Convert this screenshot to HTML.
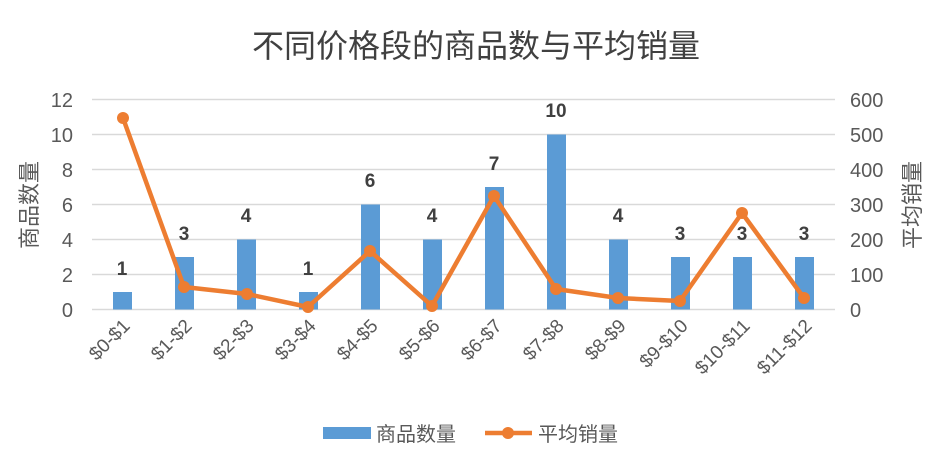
<!DOCTYPE html>
<html><head><meta charset="utf-8"><style>
body{margin:0;background:#fff;}
svg text{font-family:"Liberation Sans","Noto Sans CJK SC",sans-serif;}
</style></head><body>
<svg width="952" height="466" viewBox="0 0 952 466" xmlns="http://www.w3.org/2000/svg">
<rect width="952" height="466" fill="#fff"/>
<text x="476" y="57" font-size="32" fill="#404040" text-anchor="middle">不同价格段的商品数与平均销量</text>
<g stroke="#d9d9d9" stroke-width="1.5">
<line x1="92" y1="99.5" x2="835" y2="99.5"/>
<line x1="92" y1="134.5" x2="835" y2="134.5"/>
<line x1="92" y1="169.5" x2="835" y2="169.5"/>
<line x1="92" y1="204.5" x2="835" y2="204.5"/>
<line x1="92" y1="239.5" x2="835" y2="239.5"/>
<line x1="92" y1="274.5" x2="835" y2="274.5"/>
<line x1="92" y1="309.5" x2="835" y2="309.5"/>
</g>
<g font-size="20" fill="#595959" text-anchor="end">
<text x="73" y="107">12</text><text x="73" y="142">10</text><text x="73" y="177">8</text><text x="73" y="212">6</text><text x="73" y="247">4</text><text x="73" y="282">2</text><text x="73" y="317">0</text>
</g>
<g font-size="20" fill="#595959" text-anchor="start">
<text x="850" y="107">600</text><text x="850" y="142">500</text><text x="850" y="177">400</text><text x="850" y="212">300</text><text x="850" y="247">200</text><text x="850" y="282">100</text><text x="850" y="317">0</text>
</g>
<text transform="translate(37,205) rotate(-90)" font-size="22" fill="#595959" text-anchor="middle">商品数量</text>
<text transform="translate(920,205) rotate(-90)" font-size="22" fill="#595959" text-anchor="middle">平均销量</text>
<g fill="#5b9bd5">
<rect x="113" y="292" width="19" height="17.5"/>
<rect x="175" y="257" width="19" height="52.5"/>
<rect x="237" y="239.5" width="19" height="70"/>
<rect x="299" y="292" width="19" height="17.5"/>
<rect x="361" y="204.5" width="19" height="105"/>
<rect x="423" y="239.5" width="19" height="70"/>
<rect x="485" y="187" width="19" height="122.5"/>
<rect x="547" y="134.5" width="19" height="175"/>
<rect x="609" y="239.5" width="19" height="70"/>
<rect x="671" y="257" width="19" height="52.5"/>
<rect x="733" y="257" width="19" height="52.5"/>
<rect x="795" y="257" width="19" height="52.5"/>
</g>
<g font-size="19" font-weight="bold" fill="#404040" text-anchor="middle">
<text x="122" y="275">1</text><text x="184" y="240">3</text><text x="246" y="222">4</text><text x="308" y="275">1</text>
<text x="370" y="187">6</text><text x="432" y="222">4</text><text x="494" y="170">7</text><text x="556" y="117">10</text>
<text x="618" y="222">4</text><text x="680" y="240">3</text><text x="742" y="240">3</text><text x="804" y="240">3</text>
</g>
<polyline fill="none" stroke="#ed7d31" stroke-width="4.5" stroke-linejoin="round" points="123,118 184,287 247,294 308,307 370,251 432,306 494,196 556,289 618,298 680,301 742,213 804,298"/>
<g fill="#ed7d31">
<circle cx="123" cy="118" r="6"/><circle cx="184" cy="287" r="6"/><circle cx="247" cy="294" r="6"/><circle cx="308" cy="307" r="6"/>
<circle cx="370" cy="251" r="6"/><circle cx="432" cy="306" r="6"/><circle cx="494" cy="196" r="6"/><circle cx="556" cy="289" r="6"/>
<circle cx="618" cy="298" r="6"/><circle cx="680" cy="301" r="6"/><circle cx="742" cy="213" r="6"/><circle cx="804" cy="298" r="6"/>
</g>
<g font-size="19" fill="#595959" text-anchor="end">
<text transform="translate(131,327) rotate(-45)">$0-$1</text>
<text transform="translate(193,327) rotate(-45)">$1-$2</text>
<text transform="translate(255,327) rotate(-45)">$2-$3</text>
<text transform="translate(317,327) rotate(-45)">$3-$4</text>
<text transform="translate(379,327) rotate(-45)">$4-$5</text>
<text transform="translate(441,327) rotate(-45)">$5-$6</text>
<text transform="translate(503,327) rotate(-45)">$6-$7</text>
<text transform="translate(565,327) rotate(-45)">$7-$8</text>
<text transform="translate(627,327) rotate(-45)">$8-$9</text>
<text transform="translate(689,327) rotate(-45)">$9-$10</text>
<text transform="translate(751,327) rotate(-45)">$10-$11</text>
<text transform="translate(813,327) rotate(-45)">$11-$12</text>
</g>
<rect x="323" y="427" width="48" height="12" fill="#5b9bd5"/>
<text x="376" y="441" font-size="20" fill="#595959">商品数量</text>
<line x1="485" y1="433" x2="532" y2="433" stroke="#ed7d31" stroke-width="4.5"/>
<circle cx="508" cy="433" r="6" fill="#ed7d31"/>
<text x="538" y="441" font-size="20" fill="#595959">平均销量</text>
</svg>
</body></html>
